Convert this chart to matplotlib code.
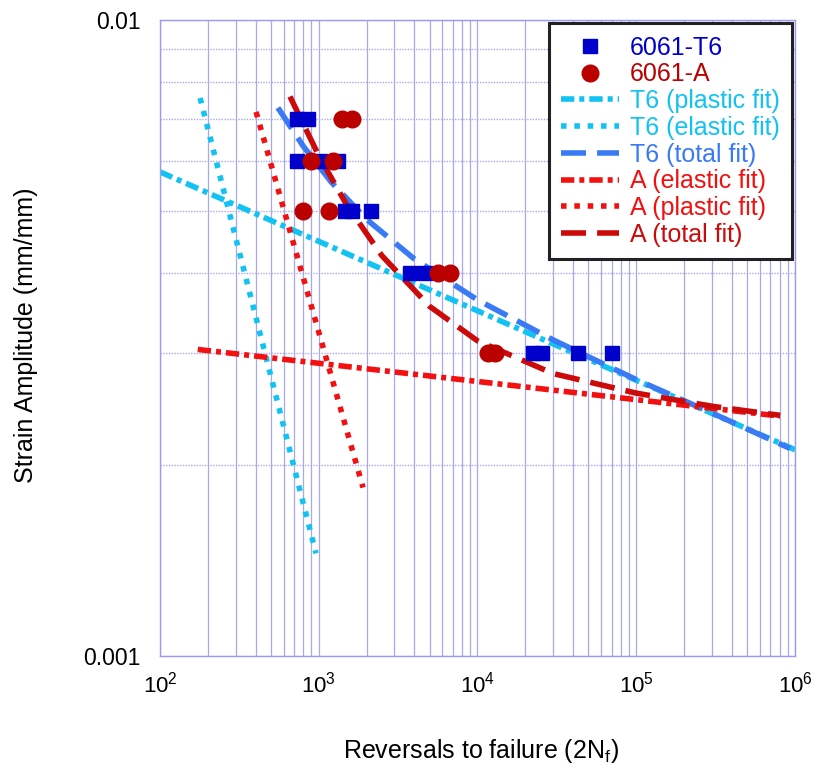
import matplotlib
matplotlib.use("Agg")
import matplotlib.pyplot as plt
from matplotlib.ticker import FixedLocator, FixedFormatter, NullFormatter, LogLocator

plt.rcParams['font.family'] = ['Liberation Sans', 'DejaVu Sans']
plt.rcParams['mathtext.fontset'] = 'custom'
plt.rcParams['mathtext.rm'] = 'Liberation Sans'
plt.rcParams['mathtext.it'] = 'Liberation Sans:italic'

# measured data
t6_N = [730, 855, 730, 1020, 1320, 1460, 1620, 2130, 3760, 4670, 22400, 25500, 42900, 70300]
t6_eps = [0.007, 0.007, 0.006, 0.006, 0.006, 0.005, 0.005, 0.005, 0.004, 0.004, 0.003, 0.003, 0.003, 0.003]
a_N = [1400, 1620, 893, 1230, 794, 1160, 5640, 6710, 11640, 12890]
a_eps = [0.007, 0.007, 0.006, 0.006, 0.005, 0.005, 0.004, 0.004, 0.003, 0.003]

# fit lines
t6_elastic_N = [100, 1000000]
t6_elastic_eps = [0.00577, 0.00211]
t6_plastic_N = [179, 961]
t6_plastic_eps = [0.00754, 0.00145]
t6_total_N = [553, 800, 1200, 2000, 4000, 10000, 30000, 100000, 300000, 930000]
t6_total_eps = [0.00728, 0.00633, 0.00556, 0.00486, 0.00421, 0.00363, 0.00314, 0.00272, 0.00241, 0.00212]

a_elastic_N = [173, 805000]
a_elastic_eps = [0.003034, 0.002383]
a_plastic_N = [403, 1901]
a_plastic_eps = [0.00717, 0.00184]
a_total_N = [659, 1000, 1500, 2500, 5000, 10000, 30000, 100000, 300000, 805000]
a_total_eps = [0.00758, 0.00612, 0.00512, 0.00426, 0.003545, 0.00313, 0.00278, 0.00259, 0.00247, 0.00239]

c_t6 = '#0000CC'
c_a = '#BB0000'
c_cyan = '#12C2F2'
c_blue = '#3A7BF5'
c_red = '#F21010'
c_dred = '#CC0A0A'

fig = plt.figure(figsize=(8.17, 7.73), dpi=100)
ax = fig.add_axes([0.1958, 0.1514, 0.7773, 0.8227])
ax.set_xscale('log')
ax.set_yscale('log')

lw = 4.0
ax.plot(t6_N, t6_eps, 's', color=c_t6, ms=10, ls='none', label='6061-T6', zorder=5)
ax.plot(a_N, a_eps, 'o', color=c_a, ms=12, ls='none', label='6061-A', zorder=5)
ax.plot(t6_elastic_N, t6_elastic_eps, color=c_cyan, lw=lw, dashes=(2.4, 0.9, 0.9, 0.9), label='T6 (plastic fit)')
ax.plot(t6_plastic_N, t6_plastic_eps, color=c_cyan, lw=lw, dashes=(1, 1.4), label='T6 (elastic fit)')
ax.plot(t6_total_N, t6_total_eps, color=c_blue, lw=lw, dashes=(4.5, 2), label='T6 (total fit)')
ax.plot(a_elastic_N, a_elastic_eps, color=c_red, lw=lw, dashes=(2.4, 0.9, 0.9, 0.9), label='A (elastic fit)')
ax.plot(a_plastic_N, a_plastic_eps, color=c_red, lw=lw, dashes=(1, 1.4), label='A (plastic fit)')
ax.plot(a_total_N, a_total_eps, color=c_dred, lw=lw, dashes=(4.5, 2), label='A (total fit)')

ax.set_xlim(100, 1e6)
ax.set_ylim(0.001, 0.01)

ax.yaxis.set_major_locator(FixedLocator([0.001, 0.01]))
ax.yaxis.set_major_formatter(FixedFormatter(['0.001', '0.01']))
ax.yaxis.set_minor_locator(LogLocator(base=10, subs=range(2, 10)))
ax.yaxis.set_minor_formatter(NullFormatter())
ax.xaxis.set_minor_locator(LogLocator(base=10, subs=range(2, 10)))
ax.xaxis.set_minor_formatter(NullFormatter())

ax.grid(True, which='both', axis='x', color='#A8A8F0', lw=0.9)
ax.grid(True, which='both', axis='y', color='#A8A8F0', lw=1.0, ls=(0, (1, 1)))
ax.set_axisbelow(True)
for s in ax.spines.values():
    s.set_color('#9A9AEE')
    s.set_linewidth(1.0)
ax.tick_params(which='both', length=0)
ax.tick_params(axis='x', labelsize=16, pad=11)
ax.tick_params(axis='y', labelsize=16.5, pad=14)

ax.set_xlabel(r'Reversals to failure (2N$_{\mathrm{f}}$)', fontsize=18)
ax.set_ylabel('Strain Amplitude (mm/mm)', fontsize=18)
ax.xaxis.set_label_coords(0.505, -0.149)
ax.xaxis.label.set_va('center')
ax.yaxis.set_label_coords(-0.211, 0.505)
ax.yaxis.label.set_va('center')

leg = ax.legend(loc='upper right', bbox_to_anchor=(0.996, 0.995), borderaxespad=0,
                fontsize=18, frameon=True, fancybox=False, edgecolor='#222222', framealpha=1,
                handlelength=2.3, labelspacing=0.11, borderpad=0.5, handletextpad=0.45,
                numpoints=1)
leg.get_frame().set_linewidth(2.2)
text_colors = [c_t6, c_a, c_cyan, c_cyan, c_blue, c_red, c_red, c_dred]
for t, c in zip(leg.get_texts(), text_colors):
    t.set_color(c)

fig.savefig('out.png', dpi=100)
